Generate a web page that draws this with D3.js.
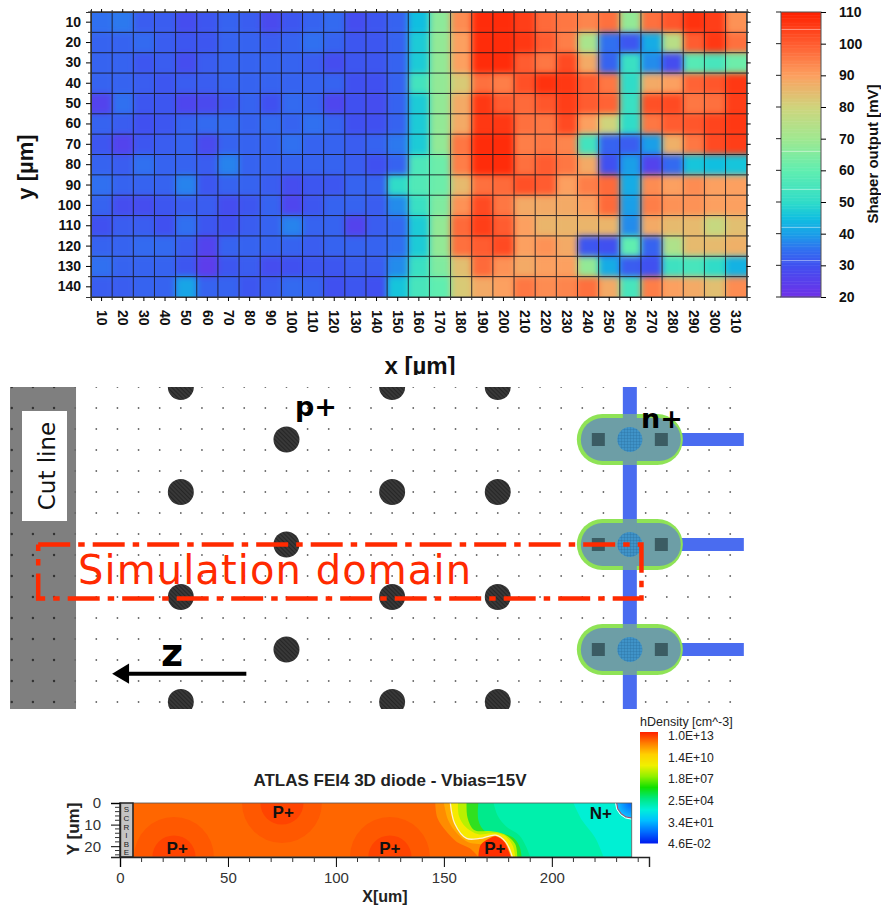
<!DOCTYPE html>
<html lang="en">
<head>
<meta charset="utf-8">
<title>3D diode scan and simulation</title>
<script src="https://d3js.org/d3.v7.min.js"></script>
<style>
	html, body { margin: 0; padding: 0; background: #fff; }
	svg { display: block; }
</style>
</head>
<body>
<script>
// ---- top panel: shaper output map ----
var xValues = d3.range(10, 320, 10);
var yValues = d3.range(10, 150, 10);
var shaper = [
	[35,36,32,32,29,31,33,32,28,31,33,34,29,31,33,45,67,93,108,108,105,98,96,94,97,68,97,101,107,105,92],
	[33,33,34,32,31,31,33,33,32,33,35,33,31,31,33,47,68,90,108,108,106,100,95,72,35,31,42,75,100,106,97],
	[33,33,31,32,29,32,33,33,33,33,32,29,31,31,33,47,68,90,108,108,100,96,103,88,33,52,38,29,58,55,62],
	[33,33,32,31,32,32,33,33,33,33,33,33,30,30,33,54,68,82,97,95,102,107,106,100,96,50,88,90,99,101,106],
	[26,35,31,31,27,28,31,33,30,34,33,27,30,29,33,47,68,88,106,100,98,101,105,100,99,52,102,103,96,97,105],
	[33,32,30,31,33,34,34,33,34,33,35,33,30,30,33,47,68,88,106,106,97,96,103,90,80,50,96,100,101,104,106],
	[31,26,31,32,33,28,33,33,33,35,33,33,32,33,36,47,68,96,108,108,95,96,94,54,33,32,40,87,96,103,105],
	[33,32,35,33,33,32,37,33,33,33,33,33,32,30,33,56,62,95,108,108,97,100,96,88,30,40,26,34,46,45,46],
	[35,33,33,33,37,31,33,33,32,29,31,31,33,33,50,57,62,85,97,98,102,100,90,95,98,42,93,90,93,90,90],
	[33,29,29,31,32,32,29,31,33,27,31,33,33,32,38,52,65,92,103,96,88,88,88,90,98,40,95,92,92,90,90],
	[30,32,32,30,35,31,30,32,33,37,33,33,26,32,34,47,68,98,105,100,90,86,86,86,86,38,88,85,85,78,84],
	[33,33,34,34,32,26,33,33,33,33,32,33,33,33,35,47,68,97,100,103,90,92,88,31,30,60,33,73,85,85,87],
	[35,33,33,33,31,24,31,32,29,30,31,31,32,32,38,52,65,84,98,92,88,90,90,68,42,32,30,53,55,50,43],
	[32,32,33,33,41,33,33,31,32,34,33,30,31,30,46,55,60,82,88,90,96,93,94,97,88,55,95,90,88,84,93]
];
var shaperStops = [20,30,35,40,45,50,60,70,80,90,100,110];
var shaperColors = ["#7030e8","#4050f0","#3070f0","#1a9fe8","#10bfe0","#30dcc8","#60eeb0","#a0e890","#cfd47c","#fca060","#ff5c30","#ff2000"];
var shaperTicks = [20,30,40,50,60,70,80,90,100,110];
var colorbarSeams = [104.5,66,54,42,31.5];

// ---- middle panel: layout schematic, in um ----
var dotX = d3.range(-55, 295, 10);
var dotY = d3.range(0, 160, 10);
var pPlusA = [[25,0],[25,50],[25,100],[25,150],[125,0],[125,50],[125,100],[125,150],[175,0],[175,50],[175,100],[175,150]];
var pPlusB = [[75,25],[75,75],[75,125]];
var nPlusX = 237.5;
var nPlusY = [25,75,125];
var domainPath = [[-42.5,75],[243,75],[243,100.7],[-42.5,100.7],[-42.5,75]];

// ---- bottom panel: simulated density ----
var densityLabels = ["1.0E+13","1.4E+10","1.8E+07","2.5E+04","3.4E+01","4.6E-02"];
var densityColors = ["#ff2400","#ff8000","#ffd000","#f0f000","#90f000","#10e000","#00e880","#00f0d8","#00c0ff","#0070ff","#0020f0"];
var xTicksMajor = [0,50,100,150,200];
var xTicksMinor = d3.range(10, 245, 10);
var yTicksMajor = [0,10,20];
var yTicksMinor = d3.range(2, 25, 2);
// contour outlines [x um, y um], painted from the low density side up.
// the last two points of each one close the band off to the left
var contourLayers = [
	{ color: "#00f0ac", pts: [[210,0],[214,8],[220,16],[224,25],[160,25],[160,0]] },
	{ color: "#00ea8c", pts: [[173,0],[175,6],[179,11],[185,15],[188,20],[190,25],[160,25],[160,0]] },
	{ color: "#30e020", pts: [[166,0],[166,8],[169,13],[176,14],[182,16],[185,20],[186,25],[140,25],[140,0]] },
	{ color: "#b8f000", pts: [[160.5,0],[161,7],[164,12.5],[171,13],[178,14.5],[183,19],[184,25],[140,25],[140,0]] },
	{ color: "#f6ea00", pts: [[156.5,0],[157,6],[160,11],[166,14.5],[172,14],[178,15],[182,20],[183,25],[140,25],[140,0]] },
	{ color: "#ffac00", pts: [[153,0],[155,9.5],[160.5,16.4],[166.6,16.4],[174,14.9],[178.6,18],[181.7,25],[140,25],[140,0]] },
	{ color: "#ff8c00", pts: [[150,0],[152,8],[156,14],[161,18],[166,19],[170,20],[172,25],[120,25],[120,0]] },
	{ color: "#ff6600", pts: [[146,0],[147,7],[151,13],[156,18],[162,21],[166,25],[6,25],[6,0]] }
];
var whiteLine = [[153,0],[155,9.5],[160.5,16.4],[166.6,16.4],[174,14.9],[178.6,18],[181.7,25]];
var peakRed = [[166,25],[167,19.5],[171,16.4],[174,15.4],[178,18],[181,25]];
var pPlusDiodes = [[25,25],[75,0],[125,25]];
var diodeBands = [[18.5,"#ff5800"],[10,"#ff4400"]];
var pPlusLabels = [[26.5,23.6,"P+"],[75.6,6.8,"P+"],[125,23.6,"P+"],[173.6,23.6,"P+"],[222.7,7.4,"N+"]];
var scribeLetters = ["S","C","R","I","B","E"];

var W = 881, H = 905;
var svg = d3.select("body").append("svg").attr("width", W).attr("height", H)
	.attr("font-family", "'Liberation Sans', Arial, sans-serif");
var defs = svg.append("defs");

// ---------- TOP PANEL ----------
var xBand = d3.scaleBand().domain(xValues).range([91, 746.7]);
var yBand = d3.scaleBand().domain(yValues).range([12, 297]);
var shaperColor = d3.scaleLinear().domain(shaperStops).range(shaperColors);

defs.append("clipPath").attr("id", "plotClip").append("rect")
	.attr("x", 91).attr("y", 12).attr("width", 655.7).attr("height", 285);
var blur = defs.append("filter").attr("id", "soft")
	.attr("filterUnits", "userSpaceOnUse").attr("x", 50).attr("y", -30).attr("width", 740).attr("height", 370)
	.attr("color-interpolation-filters", "sRGB");
blur.append("feGaussianBlur").attr("stdDeviation", 3.4);

var cells = svg.append("g").attr("clip-path", "url(#plotClip)")
	.append("g").attr("filter", "url(#soft)");
shaper.forEach(function(row, r) {
	row.forEach(function(v, c) {
		// border cells run on past the frame so the blur does not fade at the edge
		var x0 = xBand(xValues[c]) - (c == 0 ? 20 : 0);
		var x1 = xBand(xValues[c]) + xBand.bandwidth() + (c == row.length - 1 ? 20 : 0);
		var y0 = yBand(yValues[r]) - (r == 0 ? 20 : 0);
		var y1 = yBand(yValues[r]) + yBand.bandwidth() + (r == shaper.length - 1 ? 20 : 0);
		cells.append("rect").attr("x", x0).attr("y", y0).attr("width", x1 - x0 + 0.5).attr("height", y1 - y0 + 0.5)
			.attr("fill", shaperColor(v));
	});
});

// cell grid
var grid = svg.append("g").attr("stroke", "#15151f").attr("stroke-width", 1).attr("opacity", 0.85);
xValues.forEach(function(v) {
	grid.append("line").attr("x1", xBand(v)).attr("x2", xBand(v)).attr("y1", 12).attr("y2", 297);
});
yValues.forEach(function(v) {
	grid.append("line").attr("x1", 91).attr("x2", 746.7).attr("y1", yBand(v)).attr("y2", yBand(v));
});
svg.append("rect").attr("x", 91).attr("y", 12).attr("width", 655.7).attr("height", 285)
	.attr("fill", "none").attr("stroke", "#333").attr("stroke-width", 1);

// axes: centre ticks come from d3, edge ticks are drawn after
var axisBottom = d3.axisBottom(xBand).tickSize(4).tickPadding(8);
var gx = svg.append("g").attr("transform", "translate(0,297)").call(axisBottom);
gx.selectAll("text").attr("transform", "rotate(90)").attr("x", 13).attr("y", 0).attr("dy", "0.34em")
	.attr("text-anchor", "start").attr("font-weight", "bold").attr("font-size", 14).attr("fill", "#111")
	.attr("font-family", "'Liberation Sans'");
var axisLeft = d3.axisLeft(yBand).tickSize(5).tickPadding(5);
var gy = svg.append("g").attr("transform", "translate(91,0)").call(axisLeft);
gy.selectAll("text").attr("font-weight", "bold").attr("font-size", 14).attr("fill", "#111")
	.attr("font-family", "'Liberation Sans'");
svg.append("g").attr("transform", "translate(0,12)").call(d3.axisTop(xBand).tickSize(3).tickFormat(""));
svg.append("g").attr("transform", "translate(746.7,0)").call(d3.axisRight(yBand).tickSize(4).tickFormat(""));
svg.selectAll(".domain").attr("stroke", "#333");

var minor = svg.append("g").attr("stroke", "#333").attr("stroke-width", 1);
xValues.forEach(function(v) {
	minor.append("line").attr("x1", xBand(v)).attr("x2", xBand(v)).attr("y1", 297).attr("y2", 300);
	minor.append("line").attr("x1", xBand(v)).attr("x2", xBand(v)).attr("y1", 10).attr("y2", 12);
});
yValues.forEach(function(v) {
	minor.append("line").attr("x1", 88).attr("x2", 91).attr("y1", yBand(v)).attr("y2", yBand(v));
	minor.append("line").attr("x1", 746.7).attr("x2", 749).attr("y1", yBand(v)).attr("y2", yBand(v));
});

svg.append("text").attr("transform", "translate(33,167) rotate(-90)").attr("text-anchor", "middle")
	.attr("font-weight", "bold").attr("font-size", 22).attr("fill", "#111").text("y [µm]");
svg.append("text").attr("x", 420).attr("y", 374).attr("text-anchor", "middle")
	.attr("font-weight", "bold").attr("font-size", 24).attr("fill", "#111").text("x [µm]");

// colour bar
var barY = d3.scaleLinear().domain([20, 110]).range([297, 12]);
var bar = svg.append("g");
d3.range(20, 110, 0.5).forEach(function(v) {
	bar.append("rect").attr("x", 781).attr("width", 40).attr("y", barY(v + 0.5)).attr("height", barY(v) - barY(v + 0.5) + 0.5)
		.attr("fill", shaperColor(v + 0.25));
});
colorbarSeams.forEach(function(v) {
	bar.append("line").attr("x1", 781).attr("x2", 821).attr("y1", barY(v)).attr("y2", barY(v))
		.attr("stroke", "#fff").attr("stroke-opacity", 0.45);
});
bar.append("rect").attr("x", 781).attr("y", 12).attr("width", 40).attr("height", 285)
	.attr("fill", "none").attr("stroke", "#555");
var gBar = svg.append("g").attr("transform", "translate(821,0)")
	.call(d3.axisRight(barY).tickValues(shaperTicks).tickSize(5).tickPadding(13));
gBar.select(".domain").remove();
gBar.selectAll("text").attr("font-weight", "bold").attr("font-size", 14).attr("fill", "#111")
	.attr("font-family", "'Liberation Sans'");
shaperTicks.forEach(function(v) {
	svg.append("line").attr("x1", 776).attr("x2", 781).attr("y1", barY(v)).attr("y2", barY(v)).attr("stroke", "#222");
});
svg.append("text").attr("transform", "translate(878,154) rotate(-90)").attr("text-anchor", "middle")
	.attr("font-weight", "bold").attr("font-size", 15).attr("fill", "#111").text("Shaper output [mV]");

// ---------- MIDDLE PANEL ----------
var sx = d3.scaleLinear().domain([0, 100]).range([128, 339.3]);
var sy = d3.scaleLinear().domain([0, 100]).range([387, 597]);
var um = function(d) { return sx(d) - sx(0); };

svg.append("rect").attr("x", 0).attr("y", 375).attr("width", W).attr("height", 335).attr("fill", "#fff");
defs.append("clipPath").attr("id", "schemClip").append("rect")
	.attr("x", 10).attr("y", 387).attr("width", 735).attr("height", 322);
var hatch = defs.append("pattern").attr("id", "pHatch").attr("width", 3).attr("height", 3)
	.attr("patternUnits", "userSpaceOnUse").attr("patternTransform", "rotate(45)");
hatch.append("rect").attr("width", 3).attr("height", 3).attr("fill", "#262626");
hatch.append("line").attr("x1", 0).attr("x2", 3).attr("y1", 1).attr("y2", 1).attr("stroke", "#4a4a4a");
var mesh = defs.append("pattern").attr("id", "nMesh").attr("width", 3).attr("height", 3)
	.attr("patternUnits", "userSpaceOnUse");
mesh.append("rect").attr("width", 3).attr("height", 3).attr("fill", "#3f93c8");
mesh.append("path").attr("d", "M0 0H3M0 0V3").attr("stroke", "#2b6f9f").attr("stroke-width", 0.7);

var schem = svg.append("g").attr("clip-path", "url(#schemClip)");
// wafer edge left of the cut
schem.append("rect").attr("x", sx(-56.3)).attr("y", 387).attr("width", um(31.7)).attr("height", 322).attr("fill", "#7f7f7f");
// pixel cell dots
dotX.forEach(function(dx) {
	dotY.forEach(function(dy) {
		schem.append("circle").attr("cx", sx(dx)).attr("cy", sy(dy)).attr("r", dx < -25 ? 1.2 : 0.9)
			.attr("fill", dx < -25 ? "#333" : "#666");
	});
});
// p+ columns
pPlusA.concat(pPlusB).forEach(function(p) {
	schem.append("circle").attr("cx", sx(p[0])).attr("cy", sy(p[1])).attr("r", 13).attr("fill", "url(#pHatch)");
});
// n+ metal
schem.append("rect").attr("x", sx(nPlusX) - 7).attr("y", 387).attr("width", 14).attr("height", 322).attr("fill", "#4a6cf0");
nPlusY.forEach(function(n) {
	var cx = sx(nPlusX), cy = sy(n);
	schem.append("rect").attr("x", cx + 50).attr("y", cy - 6.5).attr("width", 64).attr("height", 13).attr("fill", "#4a6cf0");
	schem.append("rect").attr("x", cx - 53).attr("y", cy - 25.5).attr("width", 106).attr("height", 51).attr("rx", 25.5).attr("fill", "#8fe356");
	schem.append("rect").attr("x", cx - 49).attr("y", cy - 21.5).attr("width", 100).attr("height", 43).attr("rx", 21.5).attr("fill", "#6d9ea6");
	schem.append("rect").attr("x", cx - 7).attr("y", cy - 25.5).attr("width", 14).attr("height", 51).attr("fill", "#6d9ea6");
	schem.append("rect").attr("x", cx - 38).attr("y", cy - 6.5).attr("width", 13).attr("height", 13).attr("fill", "#3b5c63");
	schem.append("rect").attr("x", cx + 25).attr("y", cy - 6.5).attr("width", 13).attr("height", 13).attr("fill", "#3b5c63");
	schem.append("circle").attr("cx", cx).attr("cy", cy).attr("r", 12.5).attr("fill", "url(#nMesh)");
});

// cut line tag
svg.append("rect").attr("x", 22).attr("y", 411).attr("width", 45).attr("height", 110).attr("fill", "#fff");
svg.append("text").attr("transform", "translate(55,466) rotate(-90)").attr("text-anchor", "middle")
	.attr("font-family", "'DejaVu Sans'").attr("font-size", 23).attr("fill", "#111").text("Cut line");

// simulation domain
var domainLine = d3.line().x(function(d) { return sx(d[0]); }).y(function(d) { return sy(d[1]); });
svg.append("path").attr("d", domainLine(domainPath)).attr("fill", "none").attr("stroke", "#ff2a00")
	.attr("stroke-width", 4.5).attr("stroke-dasharray", "32 8 6.5 8");
svg.append("text").attr("x", 78).attr("y", 584).attr("font-family", "'DejaVu Sans'").attr("font-size", 40)
	.attr("fill", "#ff2a00").attr("textLength", 393).text("Simulation domain");

// labels and arrow
svg.append("text").attr("x", 295).attr("y", 416).attr("font-family", "'DejaVu Sans'").attr("font-weight", "bold")
	.attr("font-size", 27).attr("fill", "#000").text("p+");
svg.append("text").attr("x", 641).attr("y", 428).attr("font-family", "'DejaVu Sans'").attr("font-weight", "bold")
	.attr("font-size", 27).attr("fill", "#000").text("n+");
svg.append("text").attr("x", 161).attr("y", 666).attr("font-family", "'DejaVu Sans'").attr("font-weight", "bold")
	.attr("font-size", 38).attr("fill", "#000").text("z");
svg.append("line").attr("x1", sx(56)).attr("x2", sx(0)).attr("y1", sy(136.5)).attr("y2", sy(136.5))
	.attr("stroke", "#000").attr("stroke-width", 4);
svg.append("path").attr("d", d3.line()([[sx(-7.5), sy(136.5)], [sx(0.5), sy(131.7)], [sx(0.5), sy(141.3)]])).attr("fill", "#000");

// ---------- BOTTOM PANEL ----------
var fx = d3.scaleLinear().domain([0, 245]).range([120, 649]);
var fy = d3.scaleLinear().domain([0, 25]).range([803, 857]);
var xEnd = 237, xStart = 6;

defs.append("clipPath").attr("id", "fieldClip").append("rect")
	.attr("x", fx(xStart)).attr("y", fy(0)).attr("width", fx(xEnd) - fx(xStart)).attr("height", fy(25) - fy(0));
var field = svg.append("g").attr("clip-path", "url(#fieldClip)");
var contour = d3.line().x(function(d) { return fx(d[0]); }).y(function(d) { return fy(d[1]); }).curve(d3.curveCatmullRom.alpha(0.5));
var straight = d3.line().x(function(d) { return fx(d[0]); }).y(function(d) { return fy(d[1]); });

field.append("rect").attr("x", fx(xStart)).attr("y", fy(0)).attr("width", fx(xEnd) - fx(xStart)).attr("height", fy(25) - fy(0)).attr("fill", "#00f0d4");
contourLayers.forEach(function(l) {
	var edge = l.pts.slice(0, -2), tail = l.pts.slice(-2);
	field.append("path").attr("d", contour(edge) + straight(tail).replace("M", "L") + "Z").attr("fill", l.color);
});
pPlusDiodes.forEach(function(p) {
	diodeBands.forEach(function(b) {
		field.append("ellipse").attr("cx", fx(p[0])).attr("cy", fy(p[1]))
			.attr("rx", fx(b[0]) - fx(0)).attr("ry", fy(b[0]) - fy(0)).attr("fill", b[1]);
	});
});
field.append("path").attr("d", contour(peakRed)).attr("fill", "#ff3000");
field.append("path").attr("d", contour(whiteLine)).attr("fill", "none").attr("stroke", "#fff0d0").attr("stroke-width", 1.3);
// n+ corner
var nGrad = defs.append("radialGradient").attr("id", "nGrad");
nGrad.append("stop").attr("offset", "0%").attr("stop-color", "#0060ff");
nGrad.append("stop").attr("offset", "100%").attr("stop-color", "#10c0ff");
field.append("circle").attr("cx", fx(xEnd)).attr("cy", fy(0)).attr("r", 15).attr("fill", "url(#nGrad)")
	.attr("stroke", "#d03060").attr("stroke-width", 1);
field.append("circle").attr("cx", fx(xEnd)).attr("cy", fy(0)).attr("r", 16.2).attr("fill", "none").attr("stroke", "#fff").attr("stroke-width", 1);

svg.append("rect").attr("x", fx(xStart)).attr("y", fy(0)).attr("width", fx(xEnd) - fx(xStart)).attr("height", fy(25) - fy(0))
	.attr("fill", "none").attr("stroke", "#555").attr("stroke-width", 0.8);
// scribe strip
svg.append("rect").attr("x", fx(0)).attr("y", fy(0)).attr("width", fx(xStart) - fx(0)).attr("height", fy(25) - fy(0))
	.attr("fill", "#c4c4c4").attr("stroke", "#222").attr("stroke-width", 1.5);
var scribeY = d3.scalePoint().domain(scribeLetters).range([fy(3), fy(23)]);
scribeLetters.forEach(function(s) {
	svg.append("text").attr("x", fx(3)).attr("y", scribeY(s)).attr("dy", "0.35em").attr("text-anchor", "middle")
		.attr("font-size", 8).attr("fill", "#222").text(s);
});
pPlusLabels.forEach(function(p) {
	svg.append("text").attr("x", fx(p[0])).attr("y", fy(p[1])).attr("text-anchor", "middle")
		.attr("font-size", 17).attr("font-weight", "bold").attr("fill", "#111").text(p[2]);
});

// axes
var ax = svg.append("g").attr("transform", "translate(0," + fy(25) + ")");
ax.call(d3.axisBottom(fx).tickValues(xTicksMajor).tickSize(10).tickPadding(5));
ax.selectAll("text").attr("font-size", 15).attr("fill", "#333").attr("font-family", "'Liberation Sans'");
ax.select(".domain").attr("stroke", "#222").attr("stroke-width", 1.4);
xTicksMinor.filter(function(v) { return v % 50 != 0; }).forEach(function(v) {
	ax.append("line").attr("x1", fx(v)).attr("x2", fx(v)).attr("y1", 0).attr("y2", 5).attr("stroke", "#333");
});
var ay = svg.append("g").attr("transform", "translate(" + fx(0) + ",0)");
ay.call(d3.axisLeft(fy).tickValues(yTicksMajor).tickSize(9).tickPadding(10));
ay.selectAll("text").attr("font-size", 15).attr("fill", "#333").attr("font-family", "'Liberation Sans'");
ay.select(".domain").attr("stroke", "#222").attr("stroke-width", 1.4);
yTicksMinor.filter(function(v) { return v % 10 != 0; }).forEach(function(v) {
	ay.append("line").attr("x1", -5).attr("x2", 0).attr("y1", fy(v)).attr("y2", fy(v)).attr("stroke", "#333");
});
svg.append("text").attr("transform", "translate(79,829) rotate(-90)").attr("text-anchor", "middle")
	.attr("font-size", 17).attr("font-weight", "bold").attr("fill", "#222").text("Y [um]");
svg.append("text").attr("x", 385).attr("y", 902).attr("text-anchor", "middle")
	.attr("font-size", 16).attr("font-weight", "bold").attr("fill", "#222").text("X[um]");
svg.append("text").attr("x", 390).attr("y", 786).attr("text-anchor", "middle")
	.attr("font-size", 17).attr("font-weight", "bold").attr("fill", "#222").text("ATLAS FEI4 3D diode - Vbias=15V");

// density legend
var denBar = d3.scaleLinear().domain([0, 1]).range([732, 843]);
var denColor = d3.scaleLinear().domain(densityColors.map(function(c, i) { return i / (densityColors.length - 1); })).range(densityColors);
d3.range(0, 111).forEach(function(i) {
	svg.append("rect").attr("x", 640).attr("width", 18).attr("y", denBar(i / 111)).attr("height", 1.5)
		.attr("fill", denColor(i / 110));
});
svg.append("text").attr("x", 640).attr("y", 726).attr("font-size", 12.5).attr("fill", "#222").text("hDensity [cm^-3]");
var denLabelY = d3.scalePoint().domain(densityLabels).range([736, 844]);
densityLabels.forEach(function(t) {
	svg.append("text").attr("x", 668).attr("y", denLabelY(t)).attr("dy", "0.35em")
		.attr("font-size", 12.2).attr("fill", "#222").text(t);
});
</script>
</body>
</html>
